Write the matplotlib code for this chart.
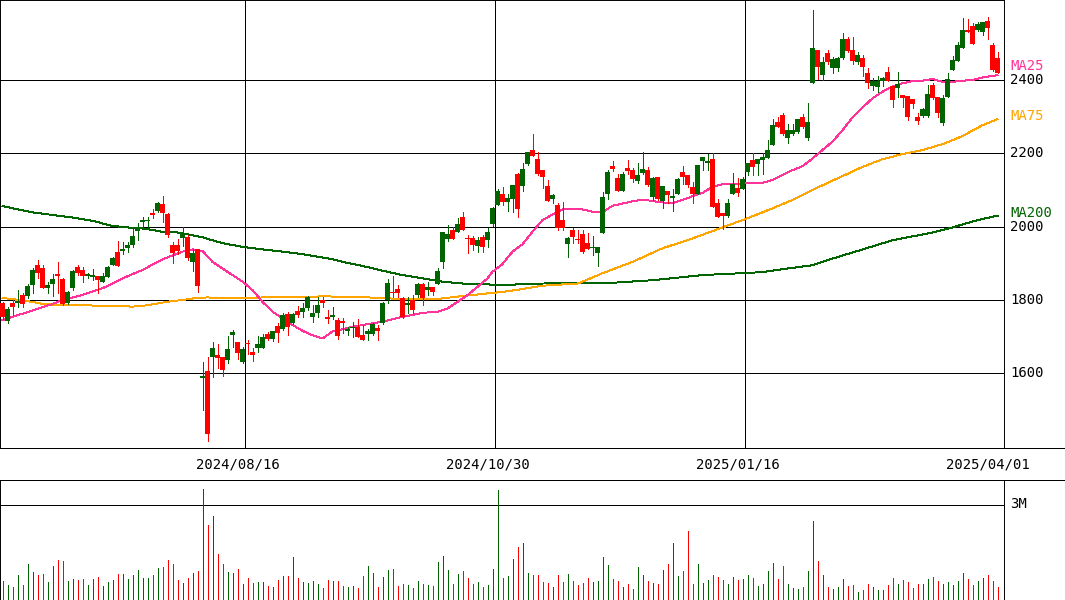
import matplotlib
matplotlib.use('Agg')
import matplotlib.pyplot as plt
from matplotlib.lines import Line2D
import numpy as np

# daily candles, oldest first (prices in yen)
opens = [1791, 1743, 1792, 1793, 1814, 1811, 1841, 1895, 1888, 1834,
         1844, 1870, 1857, 1793, 1832, 1889, 1882, 1865, 1864, 1866,
         1850, 1864, 1895, 1932, 1934, 1943, 1950, 1988, 2014, 2016,
         2036, 2043, 2062, 2035, 1950, 1950, 1968, 1973, 1905, 1938,
         1588, 1606, 1645, 1650, 1645, 1636, 1705, 1685, 1632, 1684,
         1659, 1668, 1670, 1707, 1694, 1730, 1720, 1762, 1738, 1770,
         1768, 1777, 1754, 1764, 1800, 1754, 1754, 1745, 1744, 1716,
         1723, 1727, 1705, 1708, 1708, 1723, 1736, 1800, 1823, 1830,
         1806, 1786, 1800, 1814, 1844, 1827, 1836, 1844, 1904, 1966,
         1991, 1985, 2026, 1970, 1970, 1947, 1971, 1964, 2006, 2059,
         2089, 2068, 2075, 2144, 2112, 2170, 2209, 2184, 2155, 2111,
         2075, 2059, 2018, 1954, 1991, 1967, 1980, 1955, 1942, 1929,
         1982, 2089, 2165, 2134, 2097, 2159, 2155, 2125, 2147, 2155,
         2080, 2135, 2070, 2098, 2079, 2089, 2150, 2141, 2109, 2089,
         2180, 2173, 2184, 2064, 2036, 2030, 2089, 2105, 2102, 2148,
         2182, 2170, 2182, 2186, 2223, 2286, 2304, 2241, 2254, 2259,
         2298, 2241, 2393, 2482, 2414, 2474, 2433, 2433, 2459, 2512,
         2482, 2450, 2461, 2420, 2384, 2380, 2398, 2423, 2384, 2377,
         2359, 2357, 2348, 2300, 2302, 2302, 2386, 2353, 2282, 2354,
         2427, 2452, 2488, 2536, 2547, 2536, 2532, 2562, 2495, 2459]

closes = [1753, 1775, 1782, 1798, 1789, 1838, 1882, 1874, 1834, 1841,
          1857, 1866, 1789, 1822, 1880, 1874, 1866, 1871, 1869, 1855,
          1866, 1889, 1915, 1893, 1939, 1950, 1975, 1997, 2018, 2019,
          2032, 2065, 2038, 1977, 1929, 1935, 1984, 1915, 1929, 1838,
          1593, 1435, 1670, 1643, 1609, 1666, 1714, 1655, 1666, 1679,
          1650, 1680, 1700, 1694, 1715, 1711, 1759, 1727, 1762, 1759,
          1779, 1809, 1765, 1786, 1793, 1748, 1759, 1702, 1736, 1720,
          1727, 1700, 1691, 1716, 1734, 1716, 1793, 1847, 1820, 1818,
          1755, 1793, 1773, 1844, 1806, 1836, 1823, 1879, 1985, 1979,
          1966, 2007, 1991, 1966, 1950, 1964, 1945, 1986, 2052, 2098,
          2067, 2077, 2114, 2049, 2156, 2203, 2193, 2144, 2136, 2071,
          2086, 1996, 1996, 1970, 1973, 1963, 1932, 1939, 1945, 1945,
          2080, 2150, 2157, 2097, 2144, 2153, 2130, 2141, 2156, 2114,
          2134, 2075, 2111, 2086, 2084, 2130, 2136, 2114, 2088, 2168,
          2189, 2179, 2054, 2027, 2030, 2064, 2116, 2091, 2129, 2173,
          2164, 2184, 2189, 2209, 2277, 2271, 2254, 2263, 2263, 2293,
          2273, 2286, 2488, 2436, 2450, 2450, 2456, 2459, 2512, 2479,
          2452, 2468, 2436, 2391, 2397, 2397, 2405, 2398, 2345, 2388,
          2350, 2300, 2334, 2289, 2321, 2361, 2352, 2311, 2352, 2403,
          2454, 2495, 2536, 2530, 2497, 2553, 2559, 2541, 2427, 2418]

highs = [1795, 1782, 1800, 1827, 1818, 1843, 1886, 1909, 1895, 1850,
         1871, 1904, 1860, 1825, 1882, 1895, 1889, 1874, 1884, 1866,
         1873, 1892, 1918, 1961, 1959, 1959, 1996, 2011, 2027, 2027,
         2047, 2068, 2084, 2036, 1958, 1966, 1998, 1977, 1936, 1940,
         1632, 1645, 1685, 1680, 1645, 1702, 1718, 1685, 1673, 1691,
         1668, 1702, 1707, 1714, 1715, 1736, 1764, 1766, 1765, 1784,
         1791, 1811, 1786, 1809, 1807, 1773, 1782, 1750, 1750, 1727,
         1741, 1748, 1732, 1720, 1738, 1732, 1795, 1856, 1865, 1841,
         1809, 1809, 1814, 1847, 1847, 1848, 1836, 1886, 1985, 2005,
         2000, 2024, 2041, 1977, 1975, 1973, 1977, 1996, 2055, 2102,
         2107, 2089, 2114, 2147, 2174, 2203, 2253, 2204, 2155, 2127,
         2089, 2065, 2068, 1973, 1997, 1991, 1991, 1982, 1975, 1945,
         2095, 2155, 2180, 2145, 2150, 2182, 2159, 2174, 2203, 2164,
         2136, 2135, 2111, 2098, 2102, 2132, 2165, 2141, 2123, 2168,
         2191, 2198, 2200, 2075, 2036, 2075, 2147, 2132, 2135, 2173,
         2200, 2184, 2200, 2236, 2293, 2300, 2311, 2280, 2280, 2293,
         2307, 2338, 2591, 2482, 2464, 2482, 2464, 2464, 2527, 2518,
         2518, 2477, 2468, 2432, 2405, 2411, 2409, 2436, 2384, 2423,
         2359, 2357, 2348, 2309, 2323, 2386, 2393, 2353, 2359, 2418,
         2465, 2504, 2568, 2566, 2555, 2559, 2559, 2573, 2502, 2477]

lows = [1748, 1736, 1759, 1782, 1782, 1805, 1818, 1859, 1832, 1818,
        1811, 1819, 1786, 1790, 1827, 1868, 1850, 1859, 1855, 1818,
        1850, 1862, 1895, 1893, 1925, 1932, 1945, 1964, 1993, 1993,
        2023, 2041, 2014, 1971, 1902, 1925, 1947, 1909, 1880, 1823,
        1500, 1416, 1591, 1615, 1594, 1627, 1673, 1639, 1629, 1652,
        1634, 1659, 1670, 1691, 1689, 1686, 1718, 1705, 1735, 1753,
        1753, 1773, 1741, 1753, 1782, 1736, 1748, 1694, 1709, 1705,
        1700, 1700, 1691, 1691, 1705, 1691, 1735, 1793, 1809, 1809,
        1752, 1764, 1764, 1809, 1786, 1814, 1814, 1844, 1888, 1962,
        1966, 1985, 1991, 1927, 1936, 1930, 1932, 1945, 2002, 2059,
        2059, 2043, 2041, 2027, 2098, 2168, 2193, 2141, 2105, 2071,
        2065, 1991, 1991, 1918, 1956, 1955, 1929, 1938, 1923, 1893,
        1982, 2075, 2152, 2097, 2097, 2144, 2121, 2118, 2145, 2112,
        2073, 2073, 2050, 2064, 2044, 2089, 2116, 2109, 2064, 2089,
        2155, 2155, 2054, 2027, 1995, 2027, 2089, 2084, 2102, 2141,
        2141, 2141, 2143, 2186, 2223, 2271, 2250, 2227, 2250, 2256,
        2270, 2236, 2393, 2403, 2400, 2445, 2418, 2424, 2456, 2477,
        2445, 2445, 2411, 2377, 2374, 2368, 2384, 2398, 2327, 2354,
        2327, 2291, 2323, 2280, 2300, 2300, 2348, 2298, 2277, 2354,
        2427, 2452, 2488, 2530, 2497, 2534, 2523, 2511, 2425, 2418]

# volume in millions of shares
volumes = [0.58, 0.45, 0.39, 0.77, 0.45, 1.12, 0.86, 0.77, 0.80, 0.55,
           1.05, 1.24, 1.21, 0.58, 0.64, 0.61, 0.64, 0.45, 0.64, 0.71,
           0.42, 0.55, 0.61, 0.80, 0.80, 0.64, 0.77, 0.93, 0.67, 0.67,
           0.77, 0.99, 1.02, 1.24, 1.12, 0.61, 0.52, 0.67, 0.83, 0.89,
           3.48, 2.35, 2.63, 1.43, 1.12, 0.86, 0.83, 0.96, 0.48, 0.67,
           0.52, 0.55, 0.55, 0.42, 0.39, 0.61, 0.74, 0.74, 1.34, 0.67,
           0.55, 0.52, 0.58, 0.48, 0.36, 0.61, 0.58, 0.58, 0.42, 0.39,
           0.42, 0.36, 0.74, 1.05, 0.83, 0.39, 0.71, 0.93, 0.96, 0.42,
           0.48, 0.45, 0.36, 0.58, 0.48, 0.45, 0.42, 1.18, 1.37, 0.93,
           0.48, 0.80, 0.89, 0.67, 0.48, 0.55, 0.39, 0.45, 0.96, 3.45,
           0.67, 0.74, 1.27, 1.65, 1.78, 0.83, 0.77, 0.77, 0.55, 0.52,
           0.39, 0.77, 0.55, 0.80, 0.58, 0.45, 0.52, 0.67, 0.55, 0.58,
           1.34, 1.08, 0.64, 0.58, 0.39, 0.48, 0.33, 1.02, 0.77, 0.58,
           0.52, 0.48, 0.93, 1.12, 1.78, 0.74, 0.89, 2.16, 0.48, 1.12,
           0.52, 0.61, 0.77, 0.71, 0.61, 0.48, 0.71, 0.61, 0.64, 0.77,
           0.67, 0.42, 0.48, 0.89, 1.15, 0.64, 1.05, 0.48, 0.36, 0.33,
           0.39, 0.89, 2.47, 1.21, 0.77, 0.39, 0.33, 0.39, 0.64, 0.42,
           0.45, 0.23, 0.29, 0.48, 0.39, 0.29, 0.29, 0.45, 0.67, 0.48,
           0.61, 0.55, 0.36, 0.48, 0.48, 0.64, 0.71, 0.58, 0.48, 0.55,
           0.45, 0.58, 0.83, 0.64, 0.45, 0.58, 0.67, 0.77, 0.58, 0.39]

# moving averages (day index, price)
ma25_day = [0, 7, 10, 12, 16, 20, 24, 28, 32, 36, 38, 40, 42, 44, 46, 48, 50, 52,
            54, 56, 58, 60, 62, 64, 66, 70, 76, 80, 84, 87, 89, 91, 93, 95, 97, 98,
            100, 102, 104, 106, 108, 110, 112, 114, 116, 118, 120, 122, 124, 126,
            128, 130, 132, 134, 136, 138, 140, 142, 144, 146, 148, 150, 152, 154,
            156, 158, 160, 162, 164, 166, 168, 170, 172, 174, 176, 178, 180, 182,
            184, 186, 188, 190, 192, 194, 196, 198, 199]
ma25 = [1745, 1776, 1789, 1800, 1814, 1832, 1859, 1882, 1911, 1932, 1938, 1934,
        1904, 1886, 1868, 1850, 1827, 1795, 1768, 1750, 1732, 1716, 1704, 1695,
        1714, 1727, 1741, 1754, 1765, 1768, 1777, 1795, 1813, 1836, 1859, 1877,
        1898, 1932, 1952, 1986, 2018, 2033, 2047, 2048, 2047, 2041, 2040, 2057,
        2063, 2069, 2074, 2070, 2066, 2064, 2073, 2083, 2092, 2109, 2116, 2115,
        2118, 2118, 2120, 2127, 2141, 2154, 2165, 2186, 2209, 2232, 2263, 2298,
        2325, 2350, 2368, 2382, 2391, 2397, 2398, 2403, 2395, 2395, 2398, 2400,
        2407, 2411, 2413]

ma75_day = [0, 2, 4, 6, 8, 12, 16, 20, 24, 26, 28, 30, 32, 34, 36, 39, 41, 44, 48,
            52, 56, 60, 64, 68, 72, 76, 80, 84, 87, 89, 92, 95, 97, 100, 104, 108,
            115, 116, 120, 126, 132, 138, 144, 149, 154, 158, 160, 162, 164, 168,
            172, 176, 180, 184, 188, 192, 196, 199]
ma75 = [1805, 1803, 1798, 1795, 1789, 1786, 1786, 1784, 1783, 1782, 1784, 1788,
        1793, 1797, 1800, 1806, 1807, 1805, 1805, 1807, 1808, 1808, 1810, 1809,
        1808, 1805, 1803, 1803, 1803, 1806, 1811, 1815, 1818, 1822, 1830, 1839,
        1845, 1850, 1873, 1904, 1941, 1968, 1998, 2023, 2050, 2073, 2086, 2100,
        2113, 2138, 2163, 2184, 2198, 2209, 2225, 2247, 2277, 2293]

ma200_day = [0, 6, 10, 14, 18, 22, 25, 28, 30, 32, 34, 36, 40, 44, 48, 52, 56, 60,
             64, 66, 68, 72, 76, 80, 84, 88, 92, 96, 100, 108, 122, 130, 140, 149,
             152, 156, 162, 166, 173, 178, 186, 190, 195, 199]
ma200 = [2056, 2039, 2032, 2025, 2016, 2002, 1998, 1995, 1991, 1986, 1986, 1982,
         1971, 1955, 1945, 1938, 1932, 1925, 1916, 1911, 1904, 1893, 1880, 1868,
         1859, 1850, 1845, 1843, 1841, 1845, 1847, 1854, 1868, 1874, 1876, 1884,
         1895, 1913, 1942, 1963, 1984, 1998, 2018, 2030]

date_labels = ['2024/08/16', '2024/10/30', '2025/01/16', '2025/04/01']
date_label_day = [49, 99, 149, 199]
price_ticks = [1600, 1800, 2000, 2200, 2400]

RED = '#ff0000'
GREEN = '#006400'
PINK = '#ff3399'
ORANGE = '#ffa500'
FONT = 'DejaVu Sans Mono'
LW = 0.7

o = np.array(opens, dtype=float)
c = np.array(closes, dtype=float)
h = np.array(highs, dtype=float)
l = np.array(lows, dtype=float)
v = np.array(volumes, dtype=float)
x = np.arange(len(o))
col = np.where(c >= o, GREEN, RED)

W, H = 1065, 600
fig = plt.figure(figsize=(W / 100, H / 100), dpi=100)
ax = fig.add_axes([0, 1 - 448 / H, 1004 / W, 448 / H])
axv = fig.add_axes([0, 0.5 / H, 1004 / W, 120 / H])

for a in (ax, axv):
    a.set_xlim(-0.5, -0.5 + 1004 / 5)
    a.set_xticks([])
    a.set_yticks([])
    for s in a.spines.values():
        s.set_linewidth(LW)
        s.set_color('black')

ax.set_ylim(1396.4, 2618.2)
axv.set_ylim(0, 3.0 * 120 / 95)

# grid
for p in price_ticks:
    ax.axhline(p, color='black', lw=LW, zorder=1, antialiased=False)
    ax.text(1010 / 1004, p, str(p), transform=ax.get_yaxis_transform(),
            ha='left', va='center', fontsize=10, family=FONT, clip_on=False)
for d in date_label_day[:-1]:
    ax.axvline(d - 0.5, color='black', lw=LW, zorder=1, antialiased=False)
for d, lab in zip(date_label_day, date_labels):
    ax.text(d - 2, -0.036, lab, transform=ax.get_xaxis_transform(),
            ha='center', va='center', fontsize=10, family=FONT, clip_on=False)

# moving averages
ax.plot(ma200_day, ma200, color=GREEN, lw=LW, zorder=2, antialiased=False)
ax.plot(ma75_day, ma75, color=ORANGE, lw=LW, zorder=2, antialiased=False)
ax.plot(ma25_day, ma25, color=PINK, lw=LW, zorder=2, antialiased=False)
for name, vals, cl, dy in (('MA25', ma25, PINK, 25), ('MA75', ma75, ORANGE, 8),
                           ('MA200', ma200, GREEN, 8)):
    ax.text(1010 / 1004, vals[-1] + dy, name, transform=ax.get_yaxis_transform(),
            ha='left', va='center', fontsize=10, family=FONT, color=cl, clip_on=False)

# candles
ax.vlines(x, l, h, colors=col, lw=LW, zorder=3, antialiased=False)
body_lo = np.minimum(o, c)
body_h = np.maximum(np.abs(c - o), 2.7)
ax.bar(x, body_h, bottom=body_lo, width=0.9, color=col, lw=0, zorder=4, antialiased=False)

# volume
axv.axhline(3.0, color='black', lw=LW, zorder=1, antialiased=False)
axv.text(1010 / 1004, 3.0, '3M', transform=axv.get_yaxis_transform(),
         ha='left', va='center', fontsize=10, family=FONT, clip_on=False)
axv.vlines(x, 0, v, colors=col, lw=LW, zorder=2, antialiased=False)

# frame lines through the label strip
for yy in (448, 479.5):
    fig.add_artist(Line2D([0, 1], [1 - yy / H, 1 - yy / H], color='black', lw=LW,
                          transform=fig.transFigure, antialiased=False))

fig.savefig('out.png', dpi=100)
